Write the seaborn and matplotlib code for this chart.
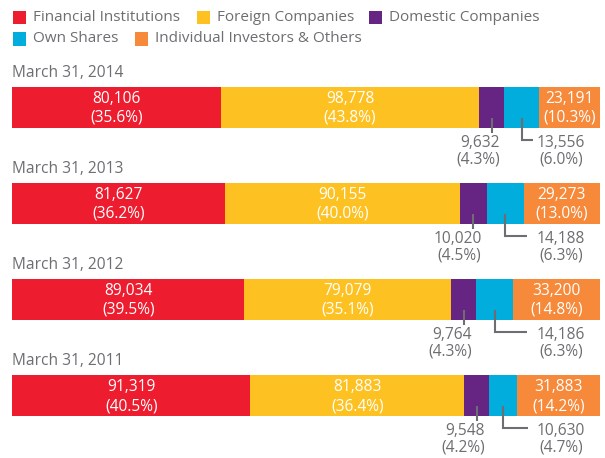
import matplotlib
matplotlib.use("Agg")
import matplotlib.pyplot as plt
import seaborn as sns
import pandas as pd
from matplotlib.patches import Rectangle

# ---------------- data ----------------
years = ["March 31, 2014", "March 31, 2013", "March 31, 2012", "March 31, 2011"]
categories = ["Financial Institutions", "Foreign Companies", "Domestic Companies",
              "Own Shares", "Individual Investors & Others"]
financial = [80106, 81627, 89034, 91319]
foreign = [98778, 90155, 79079, 81883]
domestic = [9632, 10020, 9764, 9548]
own_shares = [13556, 14188, 14186, 10630]
individual = [23191, 29273, 33200, 31883]

financial_pct = [35.6, 36.2, 39.5, 40.5]
foreign_pct = [43.8, 40.0, 35.1, 36.4]
domestic_pct = [4.3, 4.5, 4.3, 4.2]
own_shares_pct = [6.0, 6.3, 6.3, 4.7]
individual_pct = [10.3, 13.0, 14.8, 14.2]

colors = ["#ED1C2E", "#FDC122", "#662483", "#00ADDC", "#F6893A"]
TEXT = "#6D6E71"

series = [financial, foreign, domestic, own_shares, individual]
pcts = [financial_pct, foreign_pct, domestic_pct, own_shares_pct, individual_pct]

df = pd.DataFrame({"year": years})
for c, s in zip(categories, series):
    df[c] = s
cum = df[categories].cumsum(axis=1)
total = float(cum[categories[-1]].max())

# ---------------- layout ----------------
W, H = 605, 458
FONT = ["Open Sans", "DejaVu Sans"]
sns.set_theme(style="white")
plt.rcParams["font.family"] = FONT

fig = plt.figure(figsize=(W / 100, H / 100), dpi=100)
ax = fig.add_axes([0, 0, 1, 1])

BAR_L, BAR_R = 12, 600          # px extent of bars
Y0, DY = 107.5, 96              # px centre of first bar, spacing
BAR_H = 41

def px2x(px):
    return (px - BAR_L) / (BAR_R - BAR_L) * total

def dpx2x(d):
    return d / (BAR_R - BAR_L) * total

def px2y(py):
    return (py - Y0) / DY

# stacked bars: draw cumulative totals from the outermost inward
for i in range(len(categories) - 1, -1, -1):
    sns.barplot(data=cum, y=df["year"], x=cum[categories[i]], orient="h",
                order=years, color=colors[i], width=BAR_H / DY,
                linewidth=0, saturation=1, ax=ax)

ax.set_xlim(px2x(0), px2x(W))
ax.set_ylim(px2y(H), px2y(0))
ax.axis("off")

FS = 11.2
LFS = 11.0
LW = 1.5
for j, yr in enumerate(years):
    yc = j
    # year title
    ax.text(px2x(12), yc - 34.5 / DY, yr, ha="left", va="center",
            fontsize=FS, color=TEXT)
    starts = [0] + [cum[categories[k]].iloc[j] for k in range(len(categories) - 1)]
    for k in (0, 1, 4):
        xc = starts[k] + series[k][j] / 2
        ax.text(xc, yc - 8.5 / DY, f"{series[k][j]:,}", ha="center", va="center",
                fontsize=FS, color="white")
        ax.text(xc, yc + 10.5 / DY, f"({pcts[k][j]:.1f}%)", ha="center", va="center",
                fontsize=FS, color="white")
    bottom = yc + (BAR_H / 2) / DY
    # domestic callout
    xd = starts[2] + domestic[j] / 2
    ax.plot([xd, xd], [bottom - 10 / DY, bottom + 5 / DY], color=TEXT, lw=LW,
            solid_capstyle="butt")
    ax.text(xd + dpx2x(8), bottom + 15 / DY, f"{domestic[j]:,}", ha="right",
            va="center", fontsize=FS, color=TEXT)
    ax.text(xd + dpx2x(8), bottom + 31 / DY, f"({domestic_pct[j]:.1f}%)", ha="right",
            va="center", fontsize=FS, color=TEXT)
    # own shares callout
    line_end = [533, 527, 527, 528][j]
    xo = starts[3] + own_shares[j] / 2
    ax.plot([xo, xo, px2x(line_end)], [bottom - 10 / DY, bottom + 12 / DY, bottom + 12 / DY],
            color=TEXT, lw=LW, solid_joinstyle="miter", solid_capstyle="butt")
    ax.text(px2x(561), bottom + 15 / DY, f"{own_shares[j]:,}", ha="center",
            va="center", fontsize=FS, color=TEXT)
    ax.text(px2x(561), bottom + 31 / DY, f"({own_shares_pct[j]:.1f}%)", ha="center",
            va="center", fontsize=FS, color=TEXT)

# legend (manual)
leg_items = [(13, 17.5, 0), (197, 17.5, 1), (369, 17.5, 2), (13, 39, 3), (135, 39, 4)]
for x, y, k in leg_items:
    fig.patches.append(Rectangle((x / W, 1 - (y + 6.5) / H), 13 / W, 13 / H,
                                 transform=fig.transFigure, color=colors[k], lw=0))
    fig.text((x + 20) / W, 1 - y / H, categories[k], ha="left", va="center",
             fontsize=LFS, color=TEXT)

fig.savefig("out.png", dpi=100)
